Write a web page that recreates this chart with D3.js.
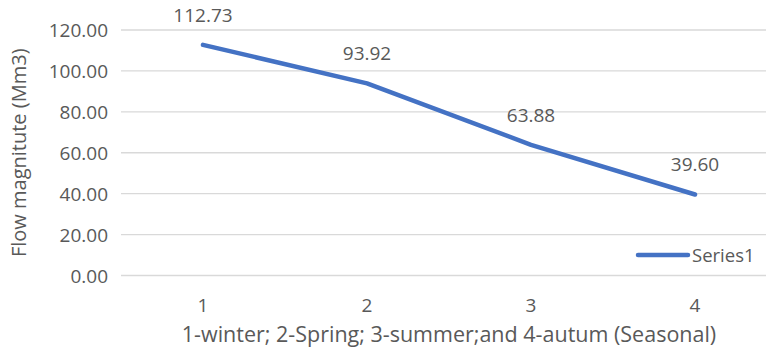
<!DOCTYPE html>
<html><head><meta charset="utf-8">
<script src="https://cdn.jsdelivr.net/npm/d3@7"></script>
<style>body{margin:0;background:#fff}svg{display:block}text{font-family:"Open Sans",sans-serif;fill:#595959}</style>
</head><body>
<svg id="c" width="766" height="354"></svg>
<script>
const categories = ["1","2","3","4"];
const values = [112.73, 93.92, 63.88, 39.60];
const yTicks = [0,20,40,60,80,100,120];
const seriesName = "Series1";
const xTitle = "1-winter; 2-Spring; 3-summer;and 4-autum (Seasonal)";
const yTitle = "Flow magnitute (Mm3)";

const svg = d3.select("#c");
const L = 121, R = 777, T = 30, B = 275.5;
const FS = 19;
const x = d3.scaleBand().domain(categories).range([L, R]);
const y = d3.scaleLinear().domain([0,120]).range([B, T]);

// gridlines
svg.append("g").selectAll("line").data(yTicks).join("line")
  .attr("x1", L).attr("x2", R).attr("y1", d=>y(d)).attr("y2", d=>y(d))
  .attr("stroke", "#d9d9d9").attr("stroke-width", 1.3);

// y axis labels
const yAxis = d3.axisLeft(y).tickValues(yTicks).tickFormat(d3.format(".2f")).tickSize(0).tickPadding(0);
const gy = svg.append("g").attr("transform", `translate(${L-13},0)`).call(yAxis);
gy.select(".domain").remove();
gy.selectAll("text").attr("font-size", FS).attr("fill", "#595959").attr("font-family", "Open Sans").attr("dy", "0.36em");

// x axis labels
const xAxis = d3.axisBottom(x).tickSize(0).tickPadding(0);
const gx = svg.append("g").attr("transform", `translate(0,${B})`).call(xAxis);
gx.select(".domain").remove();
gx.selectAll("text").attr("font-size", FS).attr("fill", "#595959").attr("font-family", "Open Sans").attr("dy", null).attr("y", 36);

const cx = d => x(d) + x.bandwidth()/2;

// line
const line = d3.line().x((d,i)=>cx(categories[i])).y(d=>y(d));
svg.append("path").datum(values).attr("d", line)
  .attr("fill","none").attr("stroke","#4472c4").attr("stroke-width",4.5).attr("stroke-linecap","round").attr("stroke-linejoin","round");

// data labels
svg.append("g").selectAll("text").data(values).join("text")
  .attr("x", (d,i)=>cx(categories[i])).attr("y", d=>y(d)-23)
  .attr("text-anchor","middle").attr("font-size",FS).text(d=>d3.format(".2f")(d));

// legend
svg.append("line").attr("x1",638).attr("x2",688).attr("y1",255).attr("y2",255)
  .attr("stroke","#4472c4").attr("stroke-width",4.5).attr("stroke-linecap","round");
svg.append("text").attr("x",692).attr("y",262).attr("font-size",18.5).text(seriesName);

// axis titles
svg.append("text").attr("x",(L+R)/2).attr("y",342).attr("text-anchor","middle").attr("font-size",21.5).text(xTitle);
svg.append("text").attr("transform",`translate(26,${(T+B)/2}) rotate(-90)`).attr("text-anchor","middle").attr("font-size",20).text(yTitle);
</script>
</body></html>
